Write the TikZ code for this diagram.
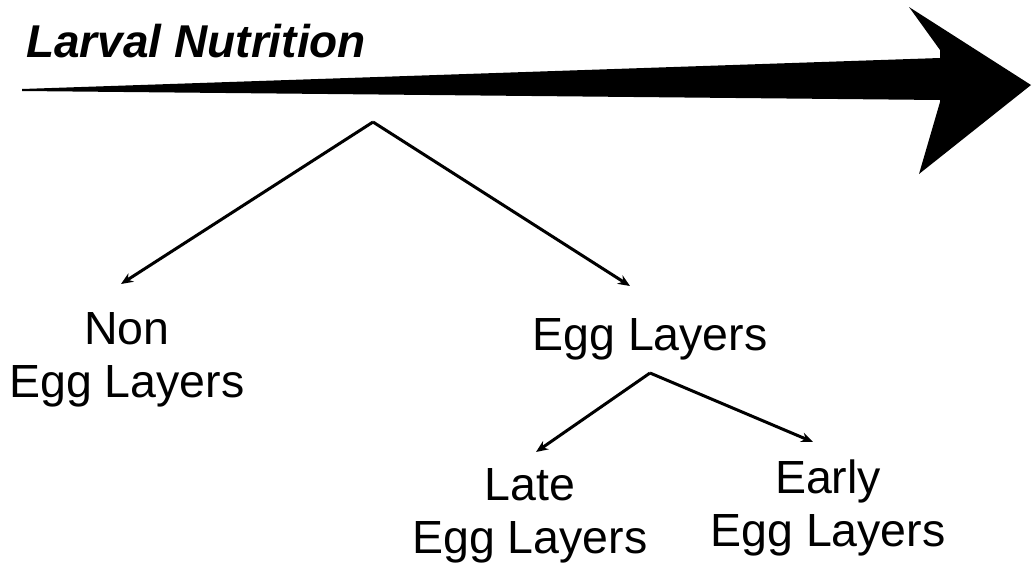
\documentclass[tikz,border=0pt]{standalone}
\usepackage{fontspec}
\setmainfont{Liberation Sans}
\usetikzlibrary{arrows.meta}
\begin{document}
\begin{tikzpicture}[x=1pt,y=-1pt,
  lbl/.style={font=\fontsize{46.5}{53}\selectfont, align=center, inner sep=0pt, anchor=north},
  conn/.style={line width=3pt, -{Stealth[length=12pt,width=10pt]}}]
\useasboundingbox (0,0) rectangle (1035,568);
% big arrow
\fill[black] (22,89) -- (940,58) -- (940,50) -- (909,7) -- (1031,85) -- (919,174)
  -- (940,102) -- (940,100) -- (22,91) -- cycle;
\node[font=\fontsize{46}{53}\selectfont\bfseries\itshape, inner sep=0pt, anchor=base west]
  (title) at (26,57) {Larval Nutrition};
% labels
\node[lbl] (non) at (127,312) {Non\\Egg Layers};
\node[lbl] (egg) at (650,318) {Egg Layers};
\node[lbl] (late) at (530,468) {Late\\Egg Layers};
\node[lbl] (early) at (828,460) {Early\\Egg Layers};
% connector ends
\coordinate (fork1) at (373,122);
\coordinate (in1) at (121,284);
\coordinate (in2) at (630,286);
\coordinate (fork2) at (650,373);
\coordinate (in3) at (536,452);
\coordinate (in4) at (813,442);
\draw[conn] (fork1) -- (in1);
\draw[conn] (fork1) -- (in2);
\draw[conn] (fork2) -- (in3);
\draw[conn] (fork2) -- (in4);
\end{tikzpicture}
\end{document}
